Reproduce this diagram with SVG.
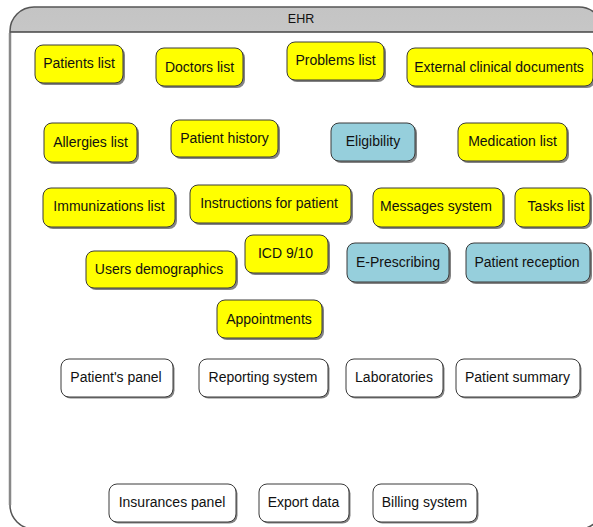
<svg xmlns="http://www.w3.org/2000/svg" width="593" height="527" viewBox="0 0 593 527">
<style>
.sh{fill:#5a5a5a;opacity:0.75}
.y{fill:#ffff00;stroke:#3a3a3a;stroke-width:1}
.b{fill:#96cfdc;stroke:#3a3a3a;stroke-width:1}
.w{fill:#ffffff;stroke:#3a3a3a;stroke-width:1}
text{font-family:"Liberation Sans",Arial,sans-serif;font-size:14px;fill:#111;text-anchor:middle;dominant-baseline:central}
.hdr{font-size:12.5px}
</style>
<defs>
<linearGradient id="hg" x1="0" y1="0" x2="0" y2="1">
<stop offset="0" stop-color="#c4c4c4"/>
<stop offset="1" stop-color="#f6f6f6"/>
</linearGradient>
<clipPath id="hc"><rect x="0" y="0" width="620" height="32"/></clipPath>
</defs>
<g id="container">
<rect x="10" y="7" width="593" height="522" rx="24" fill="#ffffff"/>
<rect x="10" y="7" width="593" height="522" rx="24" fill="url(#hg)" clip-path="url(#hc)"/>
<line x1="10" y1="32" x2="603" y2="32" stroke="#444" stroke-width="1.5"/>
<rect x="10" y="7" width="593" height="522" rx="24" fill="none" stroke="#555" stroke-width="1.5"/>
<line x1="10" y1="33" x2="10" y2="505" stroke="#888" stroke-width="2.5"/>
<text class="hdr" x="301" y="19">EHR</text>
</g>
<g id="nodes">
<g id="n-patients-list"><rect class="sh" x="37" y="47" width="88" height="38" rx="8"/><rect class="y" x="35" y="45" width="88" height="38" rx="8"/><text x="79" y="63">Patients list</text></g>
<g id="n-doctors-list"><rect class="sh" x="158" y="50" width="87" height="38" rx="8"/><rect class="y" x="156" y="48" width="87" height="38" rx="8"/><text x="199.5" y="67">Doctors list</text></g>
<g id="n-problems-list"><rect class="sh" x="289" y="44" width="97" height="38" rx="8"/><rect class="y" x="287" y="42" width="97" height="38" rx="8"/><text x="335.5" y="60">Problems list</text></g>
<g id="n-external"><rect class="sh" x="409" y="50" width="186" height="38" rx="8"/><rect class="y" x="407" y="48" width="186" height="38" rx="8"/><text x="499" y="67">External clinical documents</text></g>
<g id="n-allergies"><rect class="sh" x="46" y="125" width="93" height="39" rx="8"/><rect class="y" x="44" y="123" width="93" height="39" rx="8"/><text x="90.5" y="142">Allergies list</text></g>
<g id="n-patient-history"><rect class="sh" x="173" y="122" width="107" height="37" rx="8"/><rect class="y" x="171" y="120" width="107" height="37" rx="8"/><text x="224.5" y="138">Patient history</text></g>
<g id="n-eligibility"><rect class="sh" x="333" y="125" width="84" height="38" rx="8"/><rect class="b" x="331" y="123" width="84" height="38" rx="8"/><text x="373" y="141">Eligibility</text></g>
<g id="n-medication"><rect class="sh" x="460" y="125" width="109" height="38" rx="8"/><rect class="y" x="458" y="123" width="109" height="38" rx="8"/><text x="512.5" y="141">Medication list</text></g>
<g id="n-immunizations"><rect class="sh" x="45" y="190" width="132" height="39" rx="8"/><rect class="y" x="43" y="188" width="132" height="39" rx="8"/><text x="109" y="206">Immunizations list</text></g>
<g id="n-instructions"><rect class="sh" x="192" y="187" width="161" height="38" rx="8"/><rect class="y" x="190" y="185" width="161" height="38" rx="8"/><text x="269" y="203">Instructions for patient</text></g>
<g id="n-messages"><rect class="sh" x="375" y="190" width="130" height="39" rx="8"/><rect class="y" x="373" y="188" width="130" height="39" rx="8"/><text x="436" y="206">Messages system</text></g>
<g id="n-tasks"><rect class="sh" x="517" y="190" width="75" height="39" rx="8"/><rect class="y" x="515" y="188" width="75" height="39" rx="8"/><text x="556" y="206">Tasks list</text></g>
<g id="n-users-demographics"><rect class="sh" x="88" y="253" width="150" height="37" rx="8"/><rect class="y" x="86" y="251" width="150" height="37" rx="8"/><text x="159" y="269">Users demographics</text></g>
<g id="n-icd"><rect class="sh" x="247" y="237" width="83" height="38" rx="8"/><rect class="y" x="245" y="235" width="83" height="38" rx="8"/><text x="285.5" y="253">ICD 9/10</text></g>
<g id="n-eprescribing"><rect class="sh" x="349" y="245" width="102" height="39" rx="8"/><rect class="b" x="347" y="243" width="102" height="39" rx="8"/><text x="398" y="262">E-Prescribing</text></g>
<g id="n-patient-reception"><rect class="sh" x="468" y="245" width="124" height="39" rx="8"/><rect class="b" x="466" y="243" width="124" height="39" rx="8"/><text x="527" y="262">Patient reception</text></g>
<g id="n-appointments"><rect class="sh" x="219" y="302" width="105" height="38" rx="8"/><rect class="y" x="217" y="300" width="105" height="38" rx="8"/><text x="269" y="319">Appointments</text></g>
<g id="n-patients-panel"><rect class="sh" x="62.5" y="360.5" width="112" height="38" rx="8"/><rect class="w" x="61" y="359" width="112" height="38" rx="8"/><text x="116" y="377">Patient's panel</text></g>
<g id="n-reporting"><rect class="sh" x="200.5" y="360.5" width="129" height="38" rx="8"/><rect class="w" x="199" y="359" width="129" height="38" rx="8"/><text x="263" y="377">Reporting system</text></g>
<g id="n-laboratories"><rect class="sh" x="347.5" y="360.5" width="97" height="38" rx="8"/><rect class="w" x="346" y="359" width="97" height="38" rx="8"/><text x="394" y="377">Laboratories</text></g>
<g id="n-patient-summary"><rect class="sh" x="457.5" y="360.5" width="124" height="38" rx="8"/><rect class="w" x="456" y="359" width="124" height="38" rx="8"/><text x="517.5" y="377">Patient summary</text></g>
<g id="n-insurances"><rect class="sh" x="110.5" y="485.5" width="127" height="38" rx="8"/><rect class="w" x="109" y="484" width="127" height="38" rx="8"/><text x="172" y="502">Insurances panel</text></g>
<g id="n-export"><rect class="sh" x="260.5" y="485.5" width="90" height="38" rx="8"/><rect class="w" x="259" y="484" width="90" height="38" rx="8"/><text x="303.5" y="502">Export data</text></g>
<g id="n-billing"><rect class="sh" x="374.5" y="485.5" width="104" height="38" rx="8"/><rect class="w" x="373" y="484" width="104" height="38" rx="8"/><text x="424.5" y="502">Billing system</text></g>
</g>
<g id="connectors"></g>
</svg>
